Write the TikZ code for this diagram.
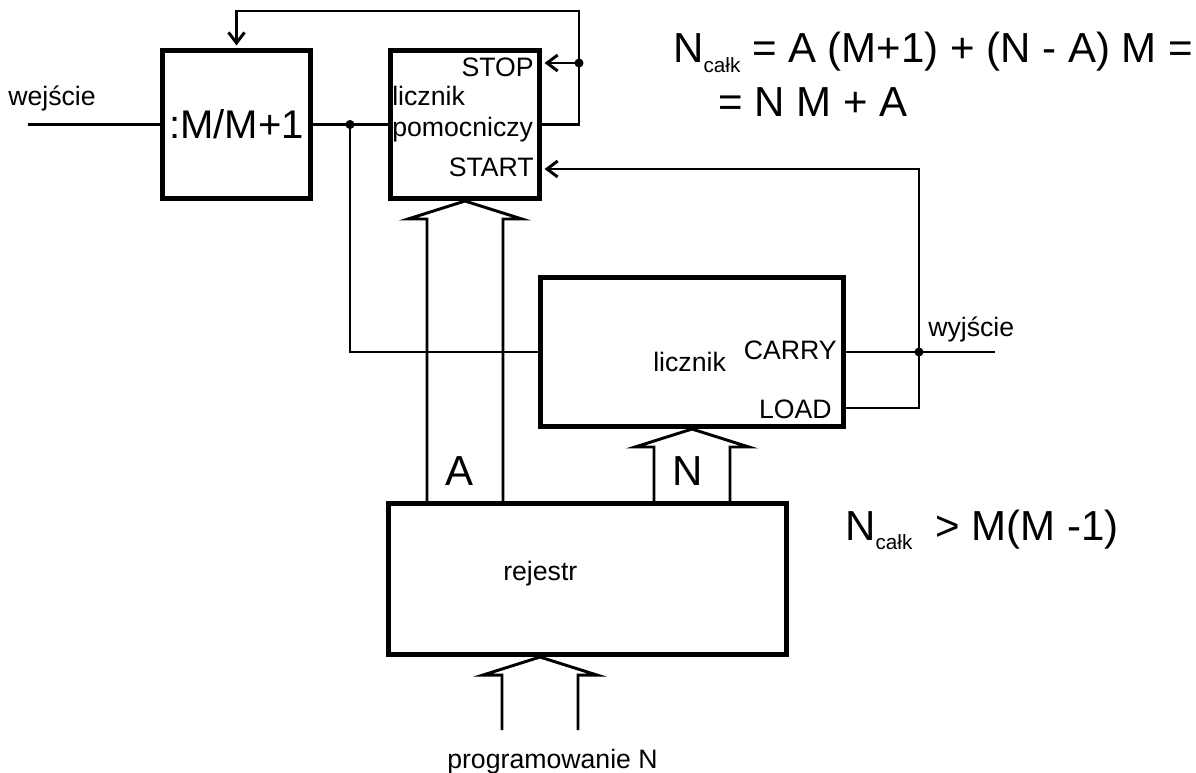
\documentclass[tikz,border=0pt]{standalone}
\usepackage{fontspec}
\setmainfont{Liberation Sans}
\usepackage{tikz}
\usetikzlibrary{arrows.meta,calc}

\newcommand\lowidx[1]{\raisebox{-7pt}{\fontsize{15.5}{18}\selectfont #1}}

\begin{document}
\begin{tikzpicture}[
  x=0.75pt,y=-0.75pt,
  blk/.style={draw,line width=3.8pt,inner sep=0pt},
  wire/.style={line width=2.2pt},
  lbl/.style={inner sep=0pt,font=\fontsize{20}{24}\selectfont},
  big/.style={inner sep=0pt,font=\fontsize{31.5}{36}\selectfont},
  >={Straight Barb[length=8pt,width=12pt]}
]
\useasboundingbox (0,0) rectangle (1196,773);
% blocks
\node[blk,minimum width=111pt,minimum height=111pt,
      font=\fontsize{30}{36}\selectfont] (div) at (236.5,124.5) {:M/M+1};
\node[blk,minimum width=111.75pt,minimum height=111pt] (pom) at (465,124.5) {};
\node[blk,minimum width=227.25pt,minimum height=111.75pt] (cnt) at (692,352) {};
\node[blk,minimum width=298.5pt,minimum height=113.25pt] (rej) at (587.5,579) {};
% labels
\node[lbl,anchor=base west] (win)   at (8,106)   {wejście};
\node[lbl,anchor=base west] (poma)  at (392,106) {licznik};
\node[lbl,anchor=base west] (pomb)  at (392,137) {pomocniczy};
\node[lbl,anchor=base east] (stop)  at (534,77)  {STOP};
\node[lbl,anchor=base east] (start) at (534,177) {START};
\node[lbl,anchor=base west] (cntl)  at (653,372) {licznik};
\node[lbl,anchor=base east] (carry) at (837,360) {CARRY};
\node[lbl,anchor=base east] (load)  at (832,419) {LOAD};
\node[lbl,anchor=base west] (wy)    at (928,337) {wyjście};
\node[lbl,anchor=base west] (rejl)  at (503,580) {rejestr};
\node[lbl,anchor=base west] (prog)  at (447,768) {programowanie N};
\node[big,anchor=base] (busa) at (460,485) {A};
\node[big,anchor=base] (busn) at (688,485) {N};
\node[big,anchor=base west] (eqa) at (673,63)
  {N\lowidx{całk} = A (M+1) + (N - A) M =};
\node[big,anchor=base west] (eqb) at (718,117) {= N M + A};
\node[big,anchor=base west] (eqc) at (845,540) {N\lowidx{całk}\ \ > M(M -1)};
% wires
\coordinate (in)  at (28,124.5);
\coordinate (j1)  at (350,124.5);
\coordinate (j2)  at (579,63);
\coordinate (fb)  at (579,11);
\coordinate (j3)  at (919,352);
\coordinate (out) at (995,352);
\coordinate (rin) at (rej.south -| 540,0);
\coordinate (pin) at (540,730);
\draw[wire] (in) -- (div.west);
\draw[wire] (div.east) -- (pom.west);
\draw[wire] (j1) |- (cnt.west);
\draw[wire,->,shorten >=1.9pt] (pom.east) -| (fb) -| (div.north);
\draw[wire,->,shorten >=1.9pt] (j2) -- (pom.east |- j2);
\draw[wire] (cnt.east) -- (out);
\draw[wire] (cnt.east |- 0,408) -| (j3);
\draw[wire,->,shorten >=1.9pt] (j3) |- (pom.east |- 0,169);
\foreach \p in {j1,j2,j3}
  \fill (\p) circle[radius=3.4pt];
% buses
\foreach \t/\b in {pom.south/rej.north,cnt.south/rej.north,rin/pin}
  \draw[wire] ($(\t |- \b)+(-38,0)$) -- ($(\t)+(-38,18)$) -- ($(\t)+(-57,18)$)
    -- (\t) -- ($(\t)+(57,18)$) -- ($(\t)+(38,18)$) -- ($(\t |- \b)+(38,0)$);
\end{tikzpicture}
\end{document}
